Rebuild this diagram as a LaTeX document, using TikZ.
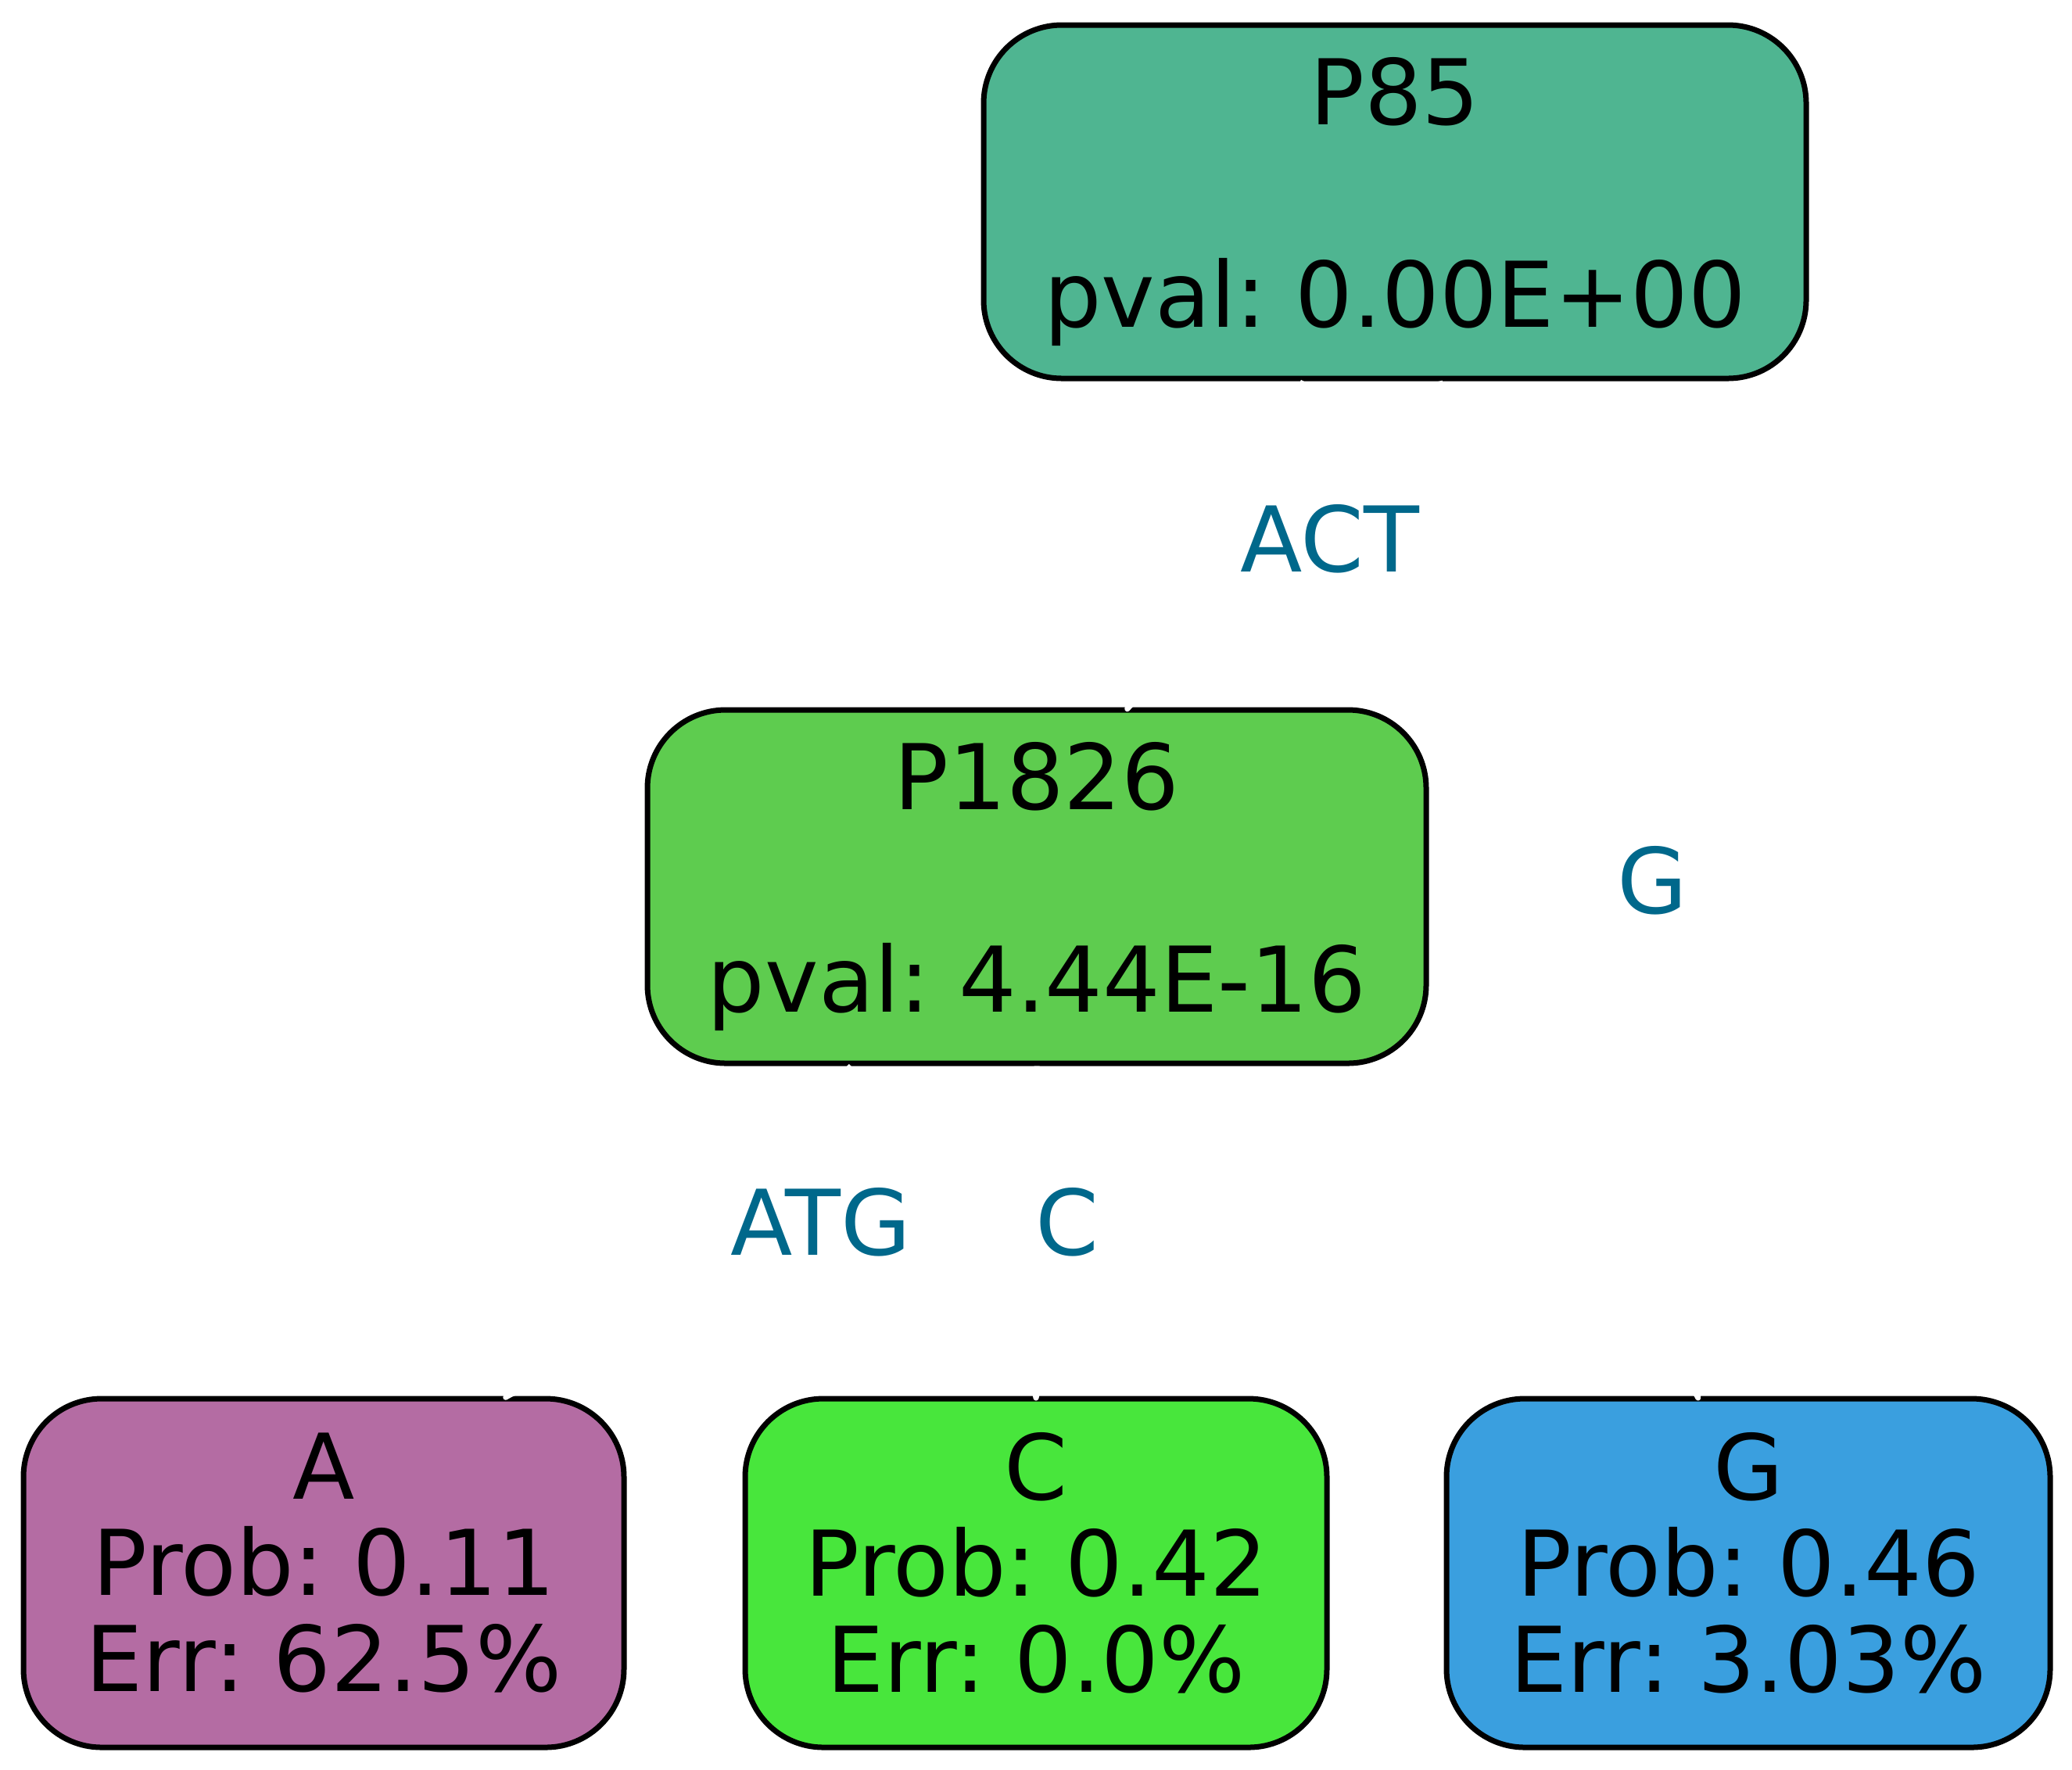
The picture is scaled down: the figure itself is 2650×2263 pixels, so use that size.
\documentclass[tikz,border=0pt]{standalone}
\usepackage{fontspec}
\setmainfont{DejaVu Sans}
\usetikzlibrary{arrows}
\definecolor{deepsky}{RGB}{0,104,139}
\definecolor{colPa}{RGB}{79,181,145}
\definecolor{colPb}{RGB}{94,204,79}
\definecolor{colA}{RGB}{180,108,163}
\definecolor{colC}{RGB}{72,230,60}
\definecolor{colG}{RGB}{58,159,223}
\frenchspacing

\begin{document}
\begin{tikzpicture}[x=0.25pt,y=-0.25pt,->,>=stealth',shorten >=-1.5pt,
  every node/.style={font=\fontsize{29}{30.75}\selectfont},
  tree/.style={draw=black,line width=1.75pt,rounded corners=25pt,align=center,inner sep=0pt,minimum height=113pt},
  leaf/.style={tree,minimum height=111.5pt,text depth=7pt},
  lbl/.style={text=deepsky},
  hide/.style={draw=white,line width=1.75pt}]

\useasboundingbox[fill=white] (0,0) rectangle (2650,2263);

\node[tree,fill=colPa,minimum width=263pt] (p85) at (1784,258) {P85\\[34pt]pval: 0.00E+00};
\node[tree,fill=colPb,minimum width=249pt] (p1826) at (1326,1134) {P1826\\[34pt]pval: 4.44E-16};

\foreach \name/\text/\x/\col/\wid/\prob/\err in {a/A/414/colA/192/0.11/62.5, c/C/1325/colC/186/0.42/0.0, g/G/2236/colG/193/0.46/3.03}
\node[leaf,fill=\col,minimum width=\wid pt] (\name) at (\x,2012) {\text\\Prob: \prob\\Err: \err\%};

\node[lbl] (lact) at (1701,689) {ACT};
\node[lbl] (lg) at (2113,1126) {G};
\node[lbl] (latg) at (1050,1563) {ATG};
\node[lbl] (lc) at (1365,1563) {C};

\draw[hide] (p85.243) -- (p1826.63);
\draw[hide] (p85.284) -- (g.106);
\draw[hide] (p1826.224) -- (a.44);
\draw[hide] (p1826.south) -- (c.north);

\end{tikzpicture}
\end{document}
